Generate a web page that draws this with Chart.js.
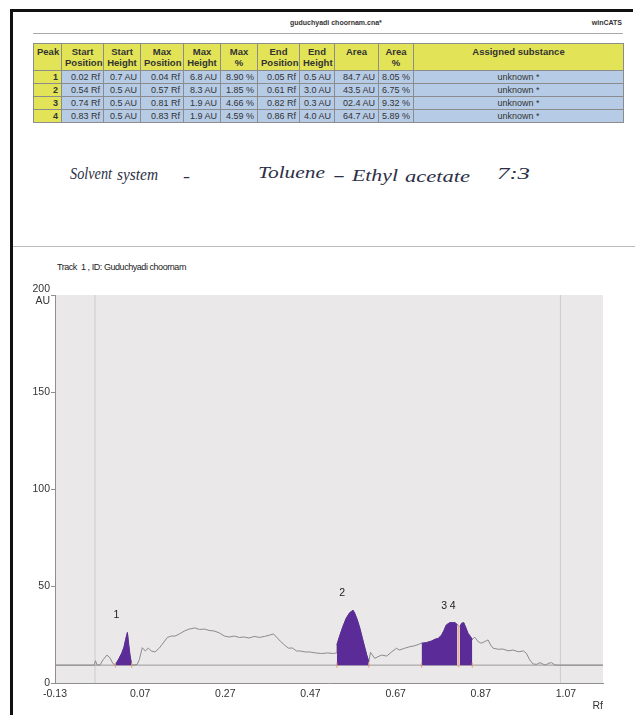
<!DOCTYPE html>
<html>
<head>
<meta charset="utf-8">
<script src="https://cdn.jsdelivr.net/npm/chart.js@4"></script>
<style>
  html, body { margin: 0; padding: 0; background: #fff; }
  #page { position: relative; width: 635px; height: 715px; overflow: hidden; background: #fff;
          font-family: "Liberation Sans", Arial, sans-serif; color: #333; }
  .abs { position: absolute; }
  .frameTop { left: 10px; top: 9px; width: 623px; height: 3px; background: #111; }
  .frameLeft { left: 10px; top: 9px; width: 3px; height: 706px; background: #111; }
  .hdrLine { left: 33px; top: 33px; width: 590px; height: 1px; background: #a8a8a8; }
  .sepLine { left: 13px; top: 246px; width: 622px; height: 1px; background: #bdbdbd; }
  .hdrText { top: 19px; font-size: 7px; font-weight: bold; color: #333; }
  table.peaks { position: absolute; left: 33px; top: 43px; width: 590px; border-collapse: collapse;
                table-layout: fixed; font-size: 9px; color: #333; }
  table.peaks th, table.peaks td { border: 1px solid #8c8c8c; padding: 0 3px; white-space: nowrap; overflow: hidden; }
  table.peaks th { background: #e2e357; font-weight: bold; text-align: center; vertical-align: top;
                   font-size: 9.5px; line-height: 11px; padding-top: 2px; height: 24px; }
  table.peaks td { background: #b6cbe6; text-align: right; height: 12px; line-height: 12px; }
  table.peaks td.pk { background: #e2e357; font-weight: bold; }
  table.peaks td.sub { text-align: center; }
  .hand { font-family: "Liberation Serif", serif; font-style: italic; font-size: 17px; color: #2c3046;
          transform-origin: 0 50%; white-space: nowrap; }
  .track { left: 57px; top: 262px; font-size: 9px; letter-spacing: -0.45px; color: #222; }
  #chartBox { position: absolute; left: 0; top: 280px; width: 635px; height: 435px; }
</style>
</head>
<body>
<div id="page">
  <div class="abs frameTop"></div>
  <div class="abs frameLeft"></div>
  <div class="abs hdrText" style="left:290px;">guduchyadi choornam.cna*</div>
  <div class="abs hdrText" style="right:13px;">winCATS</div>
  <div class="abs hdrLine"></div>

  <table class="peaks">
    <colgroup>
      <col style="width:28px"><col style="width:42px"><col style="width:37px"><col style="width:43px">
      <col style="width:37px"><col style="width:37px"><col style="width:42px"><col style="width:35px">
      <col style="width:44px"><col style="width:35px"><col style="width:210px">
    </colgroup>
    <thead>
      <tr>
        <th>Peak</th><th>Start<br>Position</th><th>Start<br>Height</th><th>Max<br>Position</th>
        <th>Max<br>Height</th><th>Max<br>%</th><th>End<br>Position</th><th>End<br>Height</th>
        <th>Area</th><th>Area<br>%</th><th>Assigned substance</th>
      </tr>
    </thead>
    <tbody id="peakRows"></tbody>
  </table>

  <!-- handwritten note -->
  <div class="abs hand" style="left:70px; top:164px;" data-w="42">Solvent</div>
  <div class="abs hand" style="left:117px; top:165px;" data-w="41">system</div>
  <div class="abs hand" style="left:183px; top:167px;" data-w="7">-</div>
  <div class="abs hand" style="left:258px; top:163px;" data-w="67">Toluene</div>
  <div class="abs hand" style="left:333px; top:166px;" data-w="12">-</div>
  <div class="abs hand" style="left:352px; top:166px;" data-w="46">Ethyl</div>
  <div class="abs hand" style="left:405px; top:167px;" data-w="65">acetate</div>
  <div class="abs hand" style="left:497px; top:164px;" data-w="33">7:3</div>

  <div class="abs sepLine"></div>
  <div class="abs track">Track &nbsp;1 , ID: Guduchyadi choornam</div>

  <div id="chartBox"><canvas id="densitogram" width="635" height="435"></canvas></div>
</div>

<script>
// ---- axis ticks ----
const rfTicks = [-0.13, 0.07, 0.27, 0.47, 0.67, 0.87, 1.07];
const auTicks = [0, 50, 100, 150, 200];

// ---- scanned density trace (Rf, AU) ----
const traceRf = [
  -0.13, -0.038, -0.035, -0.031, -0.024, -0.017, -0.008, -0.001, 0.006,
  0.012, 0.020, 0.027, 0.032, 0.036, 0.040, 0.043, 0.046, 0.050,
  0.056, 0.063, 0.068, 0.075, 0.082, 0.089, 0.096, 0.105, 0.115, 0.124, 0.134, 0.143,
  0.152, 0.162, 0.174, 0.185, 0.199, 0.209, 0.221, 0.232, 0.244, 0.256, 0.268, 0.279,
  0.291, 0.303, 0.315, 0.326, 0.338, 0.350, 0.362, 0.374, 0.383, 0.390, 0.399, 0.409,
  0.418, 0.428, 0.437, 0.446, 0.458, 0.468, 0.482, 0.496, 0.510, 0.524, 0.531,
  0.532, 0.538, 0.546, 0.554, 0.562, 0.570, 0.574, 0.580, 0.586, 0.592, 0.598, 0.602, 0.607,
  0.611, 0.621, 0.628, 0.637, 0.649, 0.661, 0.672, 0.679, 0.691, 0.703, 0.715, 0.726,
  0.731, 0.742, 0.754, 0.762, 0.770, 0.778, 0.784, 0.789, 0.797, 0.810, 0.815,
  0.821, 0.825, 0.830, 0.834, 0.840, 0.846, 0.850,
  0.856, 0.864, 0.871, 0.879, 0.887, 0.893, 0.899, 0.911, 0.922, 0.934, 0.946, 0.958,
  0.970, 0.977, 0.985, 0.993, 1.001, 1.009, 1.015, 1.022, 1.030, 1.036, 1.044, 1.052, 1.157
];
const traceAu = [
  9.2, 9.2, 11.5, 9.2, 9.4, 12.0, 14.4, 13.0, 10.0,
  9.4, 12.5, 15.5, 18.5, 22.5, 26.0, 20.0, 14.5, 9.3,
  9.3, 9.6, 12.0, 18.2, 16.5, 18.0, 16.5, 16.0, 18.0, 20.6, 23.5, 24.2,
  24.2, 25.3, 26.8, 27.8, 28.4, 27.6, 27.8, 27.1, 26.8, 25.8, 24.2, 23.7,
  24.2, 23.5, 23.7, 23.2, 24.0, 23.5, 24.0, 24.7, 25.3, 23.7, 21.6, 19.6,
  18.0, 18.0, 16.5, 16.5, 16.0, 16.0, 15.5, 15.2, 15.5, 15.2, 15.5,
  19.6, 23.9, 29.0, 33.4, 36.2, 37.5, 35.9, 32.5, 28.2, 23.0, 17.9, 14.5, 11.0,
  15.8, 12.7, 13.5, 14.4, 13.9, 16.1, 17.9, 17.0, 17.9, 18.7, 19.2, 20.1,
  20.5, 20.8, 21.6, 22.5, 23.0, 24.7, 27.3, 29.9, 31.1, 31.1, 29.9,
  29.0, 30.8, 31.1, 29.0, 25.6, 23.9, 22.5,
  23.6, 21.3, 20.5, 21.3, 22.2, 19.6, 17.9, 17.4, 17.5, 16.6, 17.0, 16.1,
  16.5, 15.3, 11.9, 9.8, 9.6, 10.5, 9.8, 9.3, 10.2, 10.5, 9.3, 9.2, 9.2
];
const baselineAu = 9.2;

// ---- integrated peaks ----
const peakNo = ['1', '2', '3', '4'];
const peakStart = [0.012, 0.532, 0.731, 0.821];
const peakMax = [0.040, 0.570, 0.810, 0.830];
const peakEnd = [0.050, 0.607, 0.815, 0.850];
const peakHeight = [16.8, 28.3, 21.9, 21.9];   // above baseline

// application track limits
const trackLimits = [-0.036, 1.057];

// ---- peak table ----
const tblStartPos = ['0.02 Rf', '0.54 Rf', '0.74 Rf', '0.83 Rf'];
const tblStartH = ['0.7 AU', '0.5 AU', '0.5 AU', '0.5 AU'];
const tblMaxPos = ['0.04 Rf', '0.57 Rf', '0.81 Rf', '0.83 Rf'];
const tblMaxH = ['6.8 AU', '8.3 AU', '1.9 AU', '1.9 AU'];
const tblMaxPct = ['8.90 %', '1.85 %', '4.66 %', '4.59 %'];
const tblEndPos = ['0.05 Rf', '0.61 Rf', '0.82 Rf', '0.86 Rf'];
const tblEndH = ['0.5 AU', '3.0 AU', '0.3 AU', '4.0 AU'];
const tblArea = ['84.7 AU', '43.5 AU', '02.4 AU', '64.7 AU'];
const tblAreaPct = ['8.05 %', '6.75 %', '9.32 %', '5.89 %'];
const tblSubstance = ['unknown *', 'unknown *', 'unknown *', 'unknown *'];

const rowsEl = document.getElementById('peakRows');
peakNo.forEach((p, i) => {
  const tr = document.createElement('tr');
  const cells = [p, tblStartPos[i], tblStartH[i], tblMaxPos[i], tblMaxH[i], tblMaxPct[i],
                 tblEndPos[i], tblEndH[i], tblArea[i], tblAreaPct[i], tblSubstance[i]];
  cells.forEach((c, k) => {
    const td = document.createElement('td');
    td.textContent = c;
    if (k === 0) td.className = 'pk';
    if (k === 10) td.className = 'sub';
    tr.appendChild(td);
  });
  rowsEl.appendChild(tr);
});

// stretch each handwritten word to its written width
document.querySelectorAll('.hand').forEach(el => {
  const w = el.getBoundingClientRect().width;
  const target = parseFloat(el.dataset.w);
  if (w > 0) el.style.transform = 'scaleX(' + (target / w).toFixed(3) + ')';
});

// ---- chart data ----
const tracePts = traceRf.map((x, i) => ({ x, y: traceAu[i] }));
const PURPLE = '#5b2c98';

const peakSets = peakStart.map((s, i) => ({
  label: 'Peak ' + peakNo[i],
  data: tracePts.filter(p => p.x >= s && p.x <= peakEnd[i]),
  borderColor: PURPLE,
  backgroundColor: PURPLE,
  borderWidth: 1,
  pointRadius: 0,
  fill: { value: baselineAu },
  order: 1
}));

const boundaryRf = [peakStart[0], peakEnd[0], peakStart[1], peakEnd[1], peakStart[2], peakEnd[3]];
const splitRf = (peakEnd[2] + peakStart[3]) / 2;

const datasets = [
  ...peakSets,
  {
    label: 'Peak split',
    data: [{ x: splitRf, y: baselineAu - 1 }, { x: splitRf, y: 29.5 }],
    borderColor: '#e9b49c', borderWidth: 2, pointRadius: 0, fill: false, order: 0
  },
  {
    label: 'Boundaries',
    data: boundaryRf.map(x => ({ x, y: baselineAu })),
    showLine: false, pointStyle: 'line', rotation: 90, pointRadius: 2.5,
    borderColor: '#e69a6e', borderWidth: 1, order: 0
  },
  {
    label: 'Trace',
    data: tracePts,
    borderColor: '#8c8c8c', borderWidth: 1, pointRadius: 0, fill: false, order: 2
  },
  {
    label: 'Baseline',
    data: [{ x: -0.13, y: baselineAu }, { x: 1.157, y: baselineAu }],
    borderColor: '#9a9a9a', borderWidth: 1, pointRadius: 0, fill: false, order: 3
  },
  ...trackLimits.map(x => ({
    label: 'Track limit',
    data: [{ x, y: 0 }, { x, y: 200 }],
    borderColor: '#cdcdcd', borderWidth: 1, pointRadius: 0, fill: false, order: 4
  }))
];

const plotBackground = {
  id: 'plotBackground',
  beforeDraw(chart) {
    const { ctx, chartArea: a } = chart;
    ctx.save();
    ctx.fillStyle = '#eae8e9';
    ctx.fillRect(a.left, a.top, a.right - a.left, a.bottom - a.top);
    ctx.restore();
  }
};

const peakLabels = {
  id: 'peakLabels',
  afterDatasetsDraw(chart) {
    const { ctx, scales: { x, y } } = chart;
    ctx.save();
    ctx.font = '10.5px "Liberation Sans", Arial, sans-serif';
    ctx.fillStyle = '#222';
    ctx.textAlign = 'center';
    ctx.textBaseline = 'middle';
    peakNo.forEach((n, i) => {
      const px = x.getPixelForValue(peakMax[i]) - 11;
      const py = y.getPixelForValue(baselineAu + peakHeight[i]) - 17;
      ctx.fillText(n, px, py);
    });
    ctx.restore();
  }
};

Chart.defaults.font.family = '"Liberation Sans", Arial, sans-serif';
Chart.defaults.color = '#333';

new Chart(document.getElementById('densitogram'), {
  type: 'line',
  data: { datasets },
  plugins: [plotBackground, peakLabels],
  options: {
    responsive: false,
    animation: false,
    devicePixelRatio: 1,
    layout: { padding: { left: 0, right: 32, top: 15, bottom: 0 } },
    plugins: { legend: { display: false }, tooltip: { enabled: false } },
    elements: { line: { tension: 0 } },
    scales: {
      x: {
        type: 'linear',
        min: -0.13, max: 1.157,
        afterBuildTicks: s => { s.ticks = rfTicks.map(v => ({ value: v })); },
        afterFit: s => { s.height = 32; },
        ticks: { font: { size: 10.5 }, color: '#333', padding: 5, maxRotation: 0, autoSkip: false,
                 callback: v => Number(v).toFixed(2) },
        grid: { display: true, drawOnChartArea: false, drawTicks: false },
        border: { display: true, color: '#8f8f8f', width: 1 },
        title: { display: true, text: 'Rf', align: 'end', font: { size: 10.5 }, color: '#333',
                 padding: { top: 0, bottom: 3 } }
      },
      y: {
        type: 'linear',
        min: 0, max: 200,
        afterBuildTicks: s => { s.ticks = auTicks.map(v => ({ value: v })); },
        afterFit: s => { s.width = 55; },
        ticks: { font: { size: 10.5 }, color: '#333', padding: 1,
                 callback: v => v === 200 ? ['200', 'AU'] : String(v) },
        grid: { display: true, drawOnChartArea: false, drawTicks: true, tickLength: 4, color: '#8f8f8f' },
        border: { display: true, color: '#8f8f8f', width: 1 }
      }
    }
  }
});
</script>
</body>
</html>
